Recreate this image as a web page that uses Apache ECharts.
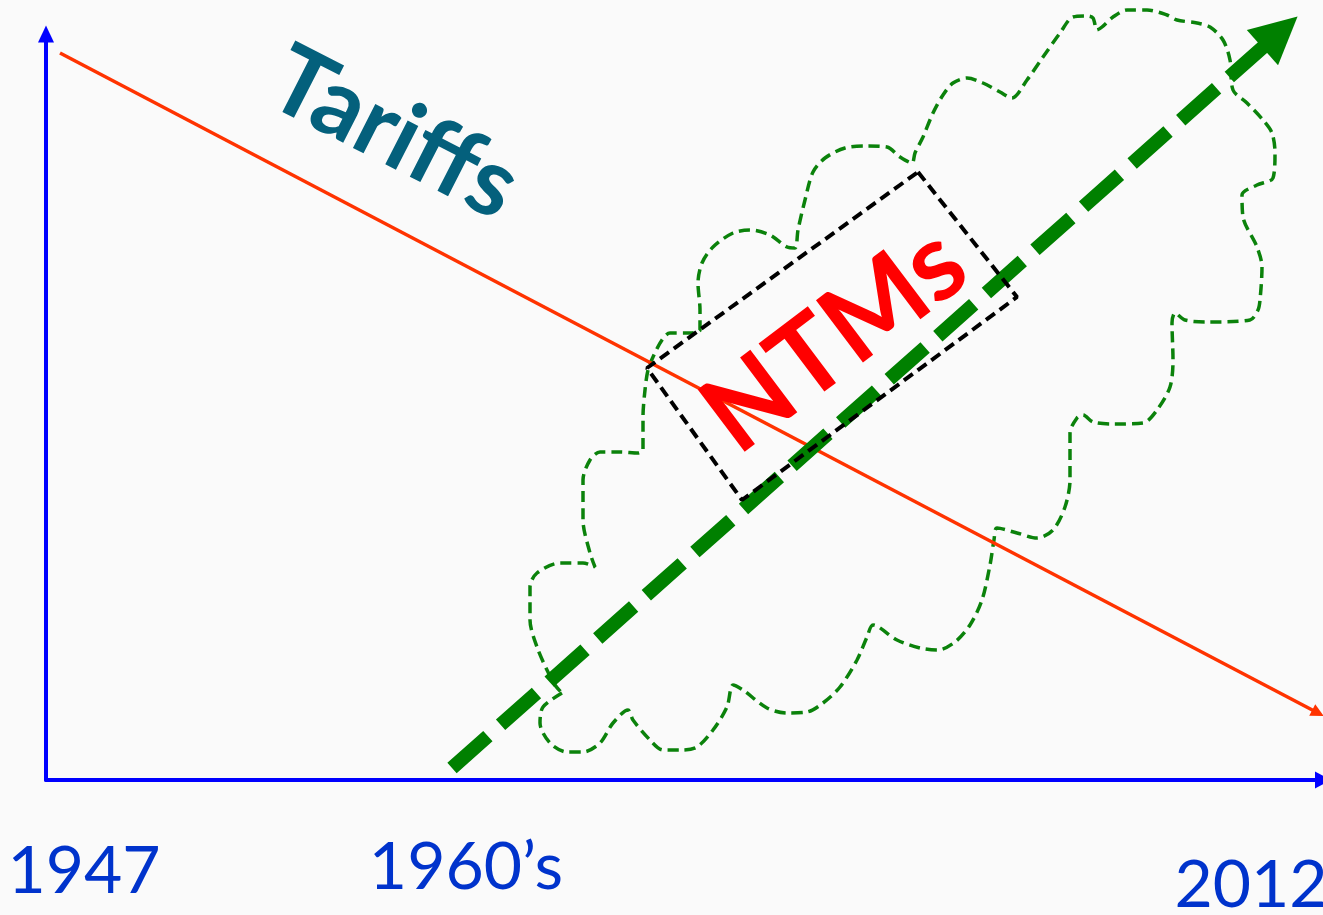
<!DOCTYPE html>
<html>
<head>
<meta charset="utf-8">
<script src="https://cdn.jsdelivr.net/npm/echarts@6/dist/echarts.min.js"></script>
<style>
html, body { margin: 0; padding: 0; background: #fafafa; }
#chart { width: 1323px; height: 915px; }
</style>
</head>
<body>
<div id="chart"></div>
<script>
// abstract units: x 0..127.7, y 0..74.6
const cloud = [
  [51.6, 8.7], [49.7, 7.3], [49.4, 5.7], [50.4, 3.7], [52.1, 2.8], [53.7, 2.8], [55.4, 3.7],
  [56.7, 5.7], [58.2, 7.0], [58.7, 6.0], [60.4, 4.0], [61.7, 3.0], [63.6, 3.0], [65.1, 3.3],
  [66.7, 5.0], [68.1, 7.3], [68.7, 9.5], [69.7, 9.0], [72.1, 7.2], [74.1, 6.7], [76.1, 6.8],
  [77.7, 7.7], [79.4, 9.3], [81.1, 12.0], [82.1, 14.3], [82.7, 15.5], [85.1, 14.0], [87.4, 13.2],
  [89.2, 13.0], [90.9, 13.8], [92.4, 15.5], [93.6, 18.0], [94.4, 21.5], [94.8, 24.0], [95.1, 25.2],
  [97.1, 24.7], [99.1, 24.2], [100.7, 25.0], [101.9, 27.3], [102.4, 30.0], [102.4, 34.7],
  [103.1, 36.2], [103.7, 36.5], [104.7, 35.8], [106.7, 35.6], [109.7, 35.7], [111.1, 37.0],
  [112.4, 39.3], [112.7, 42.0], [112.6, 45.7], [112.9, 46.7], [113.9, 46.0], [116.1, 45.8],
  [120.4, 46.0], [121.2, 47.0], [121.4, 48.0], [121.6, 51.3], [121.1, 53.3], [119.7, 56.3],
  [119.6, 58.5], [121.1, 59.5], [122.7, 60.2], [122.9, 62.7], [122.6, 64.7], [121.7, 66.0],
  [120.1, 67.7], [118.7, 69.0], [118.4, 72.0], [117.7, 74.0], [116.4, 75.3], [115.1, 75.7],
  [113.1, 76.0], [112.1, 76.5], [110.1, 77.0], [108.1, 77.0], [106.7, 76.3], [105.6, 75.3],
  [105.1, 75.0], [104.7, 76.2], [104.1, 76.4], [102.7, 76.3], [101.4, 74.7], [99.7, 72.3],
  [98.1, 70.0], [96.6, 68.2], [95.4, 68.8], [93.7, 69.7], [92.1, 70.2], [90.7, 69.7],
  [89.7, 68.5], [88.7, 66.7], [87.7, 64.3], [86.9, 62.7], [86.6, 61.7], [85.4, 62.3],
  [84.1, 63.3], [82.1, 63.4], [79.9, 63.2], [77.9, 62.2], [76.7, 60.8], [75.9, 58.0],
  [75.2, 55.0], [74.9, 53.2], [74.1, 53.3], [72.4, 54.5], [70.4, 55.0], [68.7, 54.7],
  [66.7, 53.3], [65.6, 51.7], [65.2, 49.7], [65.4, 47.0], [65.4, 45.0], [64.4, 44.7],
  [62.4, 44.7], [61.6, 44.0], [60.7, 42.3], [60.2, 41.0], [59.9, 39.0], [59.7, 36.3],
  [59.7, 33.0], [59.2, 32.7], [57.4, 32.8], [55.4, 32.8], [54.4, 32.0], [53.7, 30.0],
  [53.7, 26.0], [54.4, 22.7], [54.9, 21.3], [53.7, 21.7], [51.4, 21.7], [49.1, 20.7],
  [48.4, 19.3], [48.4, 16.0], [49.1, 13.3], [50.1, 11.0], [50.9, 9.5], [51.6, 8.7]
];
const tariffLine = [[1.4, 72.7], [127.2, 6.7]];
const ntmLine = [[40.6, 1.2], [123.4, 74.8]];
const ntmBox = [[87.2, 60.8], [97.1, 48.3], [69.6, 28.0], [60.1, 41.2], [87.2, 60.8]];
const tickLabels = ['1947', '1960’s', '2012'];
const tickX = [3.8, 42.0, 120.5];
const notes = ['Tariffs', 'NTMs'];
const noteX = [34.8, 78.9];
const noteY = [64.6, 44.0];

const font = 'Lato, "Open Sans", sans-serif';
const tickDy = [92, 88, 106];
const noteStyle = [
  { rotate: -27, fontSize: 96, color: '#04607c' },
  { rotate: 37, fontSize: 108, color: '#ff0000' }
];

const chart = echarts.init(document.getElementById('chart'));
const hideAxis = {
  axisTick: { show: false },
  axisLabel: { show: false },
  splitLine: { show: false }
};
chart.setOption({
  backgroundColor: '#fafafa',
  animation: false,
  grid: { left: 46, right: 0, top: 34, bottom: 135 },
  xAxis: Object.assign({
    type: 'value', min: 0, max: 127.7,
    axisLine: { show: true, symbol: ['none', 'triangle'], symbolSize: [17, 16],
      lineStyle: { color: '#0000ff', width: 4 } }
  }, hideAxis),
  yAxis: Object.assign({
    type: 'value', min: 0, max: 74.6,
    axisLine: { show: true, symbol: ['none', 'triangle'], symbolSize: [16, 17],
      lineStyle: { color: '#0000ff', width: 4 } }
  }, hideAxis),
  series: [
    {
      name: 'cloud', type: 'line', data: cloud, showSymbol: false, smooth: 0.3,
      clip: false, z: 1,
      lineStyle: { color: '#0b820b', width: 3.5, type: [11, 6] }
    },
    {
      name: 'Tariffs', type: 'lines', coordinateSystem: 'cartesian2d', clip: false, z: 2,
      symbol: ['none', 'triangle'], symbolSize: [11, 13],
      lineStyle: { color: '#ff3300', width: 3.5, opacity: 1 },
      data: [{ coords: tariffLine }]
    },
    {
      name: 'NTMs', type: 'lines', coordinateSystem: 'cartesian2d', clip: false, z: 3,
      symbol: ['none', 'triangle'], symbolSize: [47, 47],
      lineStyle: { color: '#008000', width: 14, type: [48, 17], opacity: 1 },
      data: [{ coords: ntmLine }]
    },
    {
      name: 'box', type: 'line', data: ntmBox, showSymbol: false, clip: false, z: 4,
      lineStyle: { color: '#000000', width: 4, type: [11, 6] }
    },
    {
      name: 'ticks', type: 'scatter', clip: false, z: 5, symbolSize: 1,
      itemStyle: { color: 'rgba(0,0,0,0)', opacity: 1 },
      data: tickLabels.map((t, i) => ({
        value: [tickX[i], 0], name: t,
        label: { offset: [0, tickDy[i]] }
      })),
      label: {
        show: true, position: 'inside', formatter: '{b}',
        fontFamily: font, fontSize: 66, color: '#0033cc'
      }
    },
    {
      name: 'notes', type: 'scatter', clip: false, z: 6, symbolSize: 1,
      itemStyle: { color: 'rgba(0,0,0,0)', opacity: 1 },
      data: notes.map((t, i) => ({
        value: [noteX[i], noteY[i]], name: t,
        label: noteStyle[i]
      })),
      label: {
        show: true, position: 'inside', formatter: '{b}',
        fontFamily: font, fontWeight: 'bold'
      }
    }
  ]
});
</script>
</body>
</html>
